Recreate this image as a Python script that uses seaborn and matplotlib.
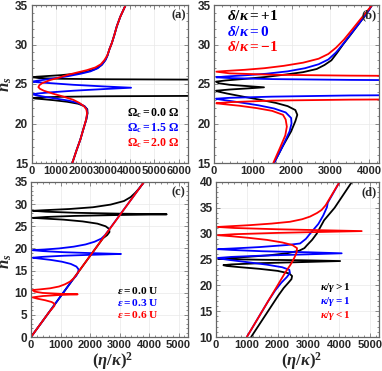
import numpy as np
import matplotlib
matplotlib.use("Agg")
import matplotlib.pyplot as plt
import seaborn as sns
from matplotlib.ticker import MultipleLocator

# ---------------- data ----------------
# panel (a)
a_red_ns = [15, 16.5, 18, 19.5, 20.5, 21.3, 21.8, 22.2, 22.6, 23.0, 23.4, 23.8, 24.15, 24.4, 24.6, 24.85, 25.1, 25.5, 25.85, 26.15, 26.45, 26.75, 27.1, 27.5, 28.0, 28.6, 29.4, 30.2, 31.2, 32.3, 33.5, 35]
a_red_x = [1660, 1820, 1990, 2130, 2220, 2260, 2230, 2130, 1950, 1700, 1300, 850, 500, 340, 280, 320, 430, 760, 1160, 1460, 1850, 2250, 2600, 2820, 2960, 3080, 3170, 3270, 3370, 3470, 3610, 3830]
a_black_lo_ns = [15, 16.5, 18, 19.5, 20.5, 21.3, 21.8, 22.2, 22.5, 22.75, 22.95, 23.08, 23.16, 23.22, 23.3, 23.38, 23.45, 23.5]
a_black_lo_x = [1660, 1820, 1990, 2130, 2230, 2280, 2270, 2150, 1900, 1450, 900, 450, 150, 60, 300, 1200, 3000, 7000]
a_black_hi_ns = [25.55, 25.6, 25.66, 25.75, 25.85, 25.92, 26.0, 26.12, 26.3, 26.55, 26.9, 27.4, 28.0, 28.6, 29.4, 30.2, 31.2, 32.3, 33.5, 35]
a_black_hi_x = [7000, 3000, 1200, 300, 60, 200, 600, 1200, 1800, 2250, 2600, 2850, 3000, 3090, 3170, 3270, 3370, 3470, 3610, 3830]
a_blue_ns = [15, 16.5, 18, 19.5, 20.5, 21.3, 21.8, 22.2, 22.6, 22.9, 23.15, 23.4, 23.6, 23.7, 23.8, 23.95, 24.15, 24.35, 24.53, 24.7, 24.9, 25.1, 25.22, 25.3, 25.4, 25.55, 25.75, 26.0, 26.3, 26.6, 27.0, 27.5, 28.1, 28.6, 29.4, 30.2, 31.2, 32.3, 33.5, 35]
a_blue_x = [1660, 1820, 1990, 2130, 2225, 2270, 2250, 2150, 1900, 1500, 1000, 500, 150, 60, 250, 800, 1700, 2900, 4050, 2900, 1700, 800, 250, 60, 200, 550, 1000, 1500, 2000, 2400, 2700, 2880, 3020, 3090, 3170, 3270, 3370, 3470, 3610, 3830]

# panel (b)
b_black_ns = [15, 17, 19, 20.3, 21.1, 21.7, 22.2, 22.6, 23.0, 23.4, 23.8, 24.05, 24.15, 24.3, 24.45, 24.58, 24.72, 24.9, 25.1, 25.3, 25.45, 25.65, 25.9, 26.2, 26.5, 26.9, 27.4, 28.0, 28.9, 30.0, 31.2, 32.5, 34, 35]
b_black_x = [1550, 1760, 1990, 2100, 2150, 2100, 1900, 1600, 1200, 750, 330, 100, 50, 400, 900, 1290, 900, 400, 120, 50, 300, 800, 1350, 1850, 2300, 2650, 2850, 3030, 3170, 3330, 3520, 3720, 3950, 4080]
b_blue_lo_ns = [15, 17, 19, 20.0, 20.7, 21.4, 21.9, 22.3, 22.65, 22.95, 23.1, 23.14, 23.25, 23.4, 23.55, 23.62]
b_blue_lo_x = [1550, 1760, 1950, 2000, 1990, 1850, 1550, 1150, 700, 280, 80, 50, 400, 1500, 3500, 6000]
b_blue_hi_ns = [25.45, 25.52, 25.62, 25.75, 25.85, 25.95, 26.1, 26.3, 26.6, 27.0, 27.5, 28.1, 29.0, 30.0, 31.2, 32.5, 34, 35]
b_blue_hi_x = [6000, 3500, 1500, 400, 60, 300, 800, 1350, 1900, 2350, 2700, 2950, 3150, 3320, 3510, 3720, 3950, 4080]
b_red_lo_ns = [15, 17, 18.5, 19.6, 20.5, 21.1, 21.6, 21.95, 22.25, 22.45, 22.56, 22.7, 22.9, 23.02, 23.08]
b_red_lo_x = [1530, 1710, 1840, 1880, 1850, 1780, 1500, 1100, 650, 250, 60, 400, 1500, 3500, 6000]
b_red_hi_ns = [25.99, 26.06, 26.17, 26.35, 26.56, 26.65, 26.8, 27.0, 27.3, 27.7, 28.2, 28.8, 29.6, 30.6, 31.8, 33.2, 35]
b_red_hi_x = [6000, 3500, 1500, 400, 60, 300, 800, 1300, 1800, 2300, 2700, 2950, 3150, 3350, 3550, 3780, 4080]

# panel (c)
c_black_ns = [0, 22.3, 23.0, 23.7, 24.4, 25.0, 25.6, 26.1, 26.5, 26.75, 26.9, 27.1, 27.35, 27.55, 27.7, 27.85, 28.05, 28.3, 28.5, 28.65, 28.9, 29.3, 29.9, 30.7, 31.6, 32.6, 33.5, 35]
c_black_x = [0, 2440, 2580, 2660, 2650, 2530, 2250, 1750, 1100, 450, 60, 500, 1500, 3000, 4600, 3000, 1500, 500, 60, 500, 1300, 2100, 2700, 3150, 3380, 3540, 3660, 3830]
c_blue_ns = [0, 13.0, 13.8, 14.6, 15.3, 15.9, 16.5, 17.0, 17.4, 17.7, 17.9, 18.1, 18.35, 18.55, 18.75, 18.95, 19.15, 19.4, 19.6, 19.75, 20.0, 20.4, 20.9, 21.5, 22.2, 23.0, 35]
c_blue_x = [0, 1420, 1530, 1600, 1610, 1540, 1350, 1050, 680, 300, 60, 400, 1100, 2000, 3050, 2000, 1100, 400, 60, 450, 950, 1450, 1850, 2150, 2380, 2510, 3830]
c_red_ns = [0, 5.5, 6.3, 7.0, 7.5, 7.9, 8.3, 8.65, 8.95, 9.25, 9.5, 9.64, 9.75, 9.95, 10.25, 10.6, 10.75, 11.0, 11.4, 11.9, 12.5, 13.2, 14.0, 35]
c_red_x = [0, 600, 700, 790, 800, 700, 480, 220, 50, 400, 1000, 1580, 1000, 400, 120, 50, 300, 650, 950, 1150, 1320, 1440, 1530, 3830]

# panel (d)
d_black_ns = [10, 15, 18, 19.5, 20.5, 21.2, 21.8, 22.3, 22.8, 23.2, 23.5, 23.75, 23.9, 24.05, 24.3, 24.5, 24.7, 24.85, 24.95, 25.05, 25.15, 25.3, 25.5, 25.8, 26.2, 26.7, 27.2, 27.8, 28.8, 30.0, 31.3, 32.6, 33.8, 35, 40]
d_black_x = [1140, 1690, 2020, 2200, 2350, 2450, 2470, 2380, 2000, 1400, 800, 350, 240, 500, 1500, 2800, 4030, 2800, 1500, 500, 80, 400, 1000, 1700, 2300, 2700, 2870, 2960, 3120, 3270, 3390, 3510, 3680, 3850, 4410]
d_blue_ns = [10, 17, 19, 20.5, 21.6, 22.4, 23.0, 23.5, 24.0, 24.5, 24.9, 25.15, 25.3, 25.5, 25.75, 26.0, 26.2, 26.4, 26.6, 26.85, 27.0, 27.15, 27.4, 27.8, 28.1, 29.0, 30.0, 31.9, 33.5, 35.1, 36, 40]
d_blue_x = [1000, 1700, 1920, 2120, 2300, 2400, 2380, 2150, 1650, 1000, 450, 150, 60, 500, 1500, 3000, 4080, 3000, 1500, 500, 60, 600, 1400, 2300, 2730, 2920, 3055, 3325, 3480, 3600, 3630, 4010]
d_red_ns = [10, 15, 20, 22.5, 24.0, 25.3, 26.4, 27.2, 27.8, 28.3, 28.8, 29.2, 29.5, 29.7, 29.9, 30.15, 30.5, 30.85, 31.1, 31.3, 31.45, 31.65, 31.95, 32.3, 32.8, 33.3, 34.0, 34.6, 35.5, 36, 40]
d_red_x = [1000, 1500, 2000, 2250, 2420, 2540, 2620, 2630, 2480, 2150, 1650, 1050, 500, 60, 600, 2000, 4730, 2000, 600, 60, 500, 1100, 1800, 2400, 2800, 3050, 3280, 3430, 3560, 3610, 4010]

legend_a = [r"$\mathrm{\Omega_c = 0.0\ \Omega}$", r"$\mathrm{\Omega_c = 1.5\ \Omega}$", r"$\mathrm{\Omega_c = 2.0\ \Omega}$"]
legend_b = [r"$\delta/\kappa = \mathrm{+1}$", r"$\delta/\kappa = \mathrm{0}$", r"$\delta/\kappa = -\mathrm{1}$"]
legend_c = [r"$\epsilon = \mathrm{0.0\ U}$", r"$\epsilon = \mathrm{0.3\ U}$", r"$\epsilon = \mathrm{0.6\ U}$"]
legend_d = [r"$\kappa/\gamma > \mathrm{1}$", r"$\kappa/\gamma = \mathrm{1}$", r"$\kappa/\gamma < \mathrm{1}$"]
colors = ["black", "#0000ff", "#ff0000"]

# ---------------- style ----------------
sns.set_style("ticks")
plt.rcParams["font.family"] = ["Liberation Sans", "DejaVu Sans"]
plt.rcParams["mathtext.fontset"] = "custom"
plt.rcParams["mathtext.rm"] = "Liberation Serif:bold"
plt.rcParams["mathtext.it"] = "Liberation Serif:italic:bold"
plt.rcParams["mathtext.bf"] = "Liberation Serif:bold"

fig = plt.figure(figsize=(3.82, 3.71), dpi=100)
W, H = 382.0, 371.0

def make_ax(l, r, t, b):
    return fig.add_axes([l / W, 1 - b / H, (r - l) / W, (b - t) / H])

ax_a = make_ax(31.5, 188, 5, 163)
ax_b = make_ax(214, 379, 5, 163)
ax_c = make_ax(31, 188, 182, 337)
ax_d = make_ax(216, 379, 182, 337)

def draw(ax, xs, ys, color):
    sns.lineplot(x=np.array(xs, float), y=np.array(ys, float), sort=False,
                 estimator=None, color=color, linewidth=1.3, ax=ax)

draw(ax_a, a_black_lo_x, a_black_lo_ns, colors[0])
draw(ax_a, a_black_hi_x, a_black_hi_ns, colors[0])
draw(ax_a, a_blue_x, a_blue_ns, colors[1])
draw(ax_a, a_red_x, a_red_ns, colors[2])

draw(ax_b, b_black_x, b_black_ns, colors[0])
draw(ax_b, b_blue_lo_x, b_blue_lo_ns, colors[1])
draw(ax_b, b_blue_hi_x, b_blue_hi_ns, colors[1])
draw(ax_b, b_red_lo_x, b_red_lo_ns, colors[2])
draw(ax_b, b_red_hi_x, b_red_hi_ns, colors[2])

draw(ax_c, c_black_x, c_black_ns, colors[0])
draw(ax_c, c_blue_x, c_blue_ns, colors[1])
draw(ax_c, c_red_x, c_red_ns, colors[2])

draw(ax_d, d_black_x, d_black_ns, colors[0])
draw(ax_d, d_blue_x, d_blue_ns, colors[1])
draw(ax_d, d_red_x, d_red_ns, colors[2])

def style(ax, xmax, xlast, ylim, label):
    ax.set_xlim(0, xmax)
    ax.set_ylim(*ylim)
    ax.set_xticks(np.arange(0, xlast + 1, 1000))
    ax.set_yticks(np.arange(ylim[0], ylim[1] + 0.1, 5))
    ax.xaxis.set_minor_locator(MultipleLocator(200))
    ax.yaxis.set_minor_locator(MultipleLocator(1))
    ax.grid(True, which="major", color="#e9e9e9", linewidth=0.5)
    ax.set_axisbelow(True)
    for s in ax.spines.values():
        s.set_color("#666666")
        s.set_linewidth(0.9)
    ax.tick_params(which="both", direction="in", top=True, right=True,
                   color="#777777", width=0.6)
    ax.tick_params(which="major", length=3)
    ax.tick_params(which="minor", length=1.5)
    ax.tick_params(axis="x", labelsize=8, pad=2.5)
    ax.tick_params(axis="y", labelsize=8.5, pad=2.5)
    for t in ax.get_xticklabels() + ax.get_yticklabels():
        t.set_fontweight("bold")
    ax.set_xlabel("")
    ax.set_ylabel("")
    ax.text(0.985, 0.975, label, transform=ax.transAxes, ha="right", va="top",
            fontsize=9, fontweight="bold", family="Liberation Serif")

style(ax_a, 6366, 6000, (15, 35), "(a)")
style(ax_b, 4258, 4000, (15, 35), "(b)")
style(ax_c, 5322, 5000, (0, 35), "(c)")
style(ax_d, 5292, 5000, (10, 40), "(d)")

def legend(ax, x, ys, texts, size):
    for y, t, c in zip(ys, texts, colors):
        ax.text(x, y, t, transform=ax.transAxes, ha="left", va="center",
                fontsize=size, color=c)

legend(ax_a, 0.61, [0.318, 0.223, 0.125], legend_a, 8.5)
legend(ax_b, 0.077, [0.932, 0.831, 0.736], legend_b, 11)
legend(ax_c, 0.548, [0.303, 0.221, 0.142], legend_c, 8.2)
legend(ax_d, 0.638, [0.318, 0.228, 0.138], legend_d, 8)

fig.text(6.5 / W, 1 - 84 / H, r"$n_s$", rotation=90, ha="center", va="center", fontsize=12)
fig.text(6.5 / W, 1 - 261 / H, r"$n_s$", rotation=90, ha="center", va="center", fontsize=12)
fig.text(113 / W, 1 - 361 / H, r"$(\eta/\kappa)^2$", ha="center", va="center", fontsize=12)
fig.text(302 / W, 1 - 361 / H, r"$(\eta/\kappa)^2$", ha="center", va="center", fontsize=12)

fig.savefig("out.png", dpi=100)
